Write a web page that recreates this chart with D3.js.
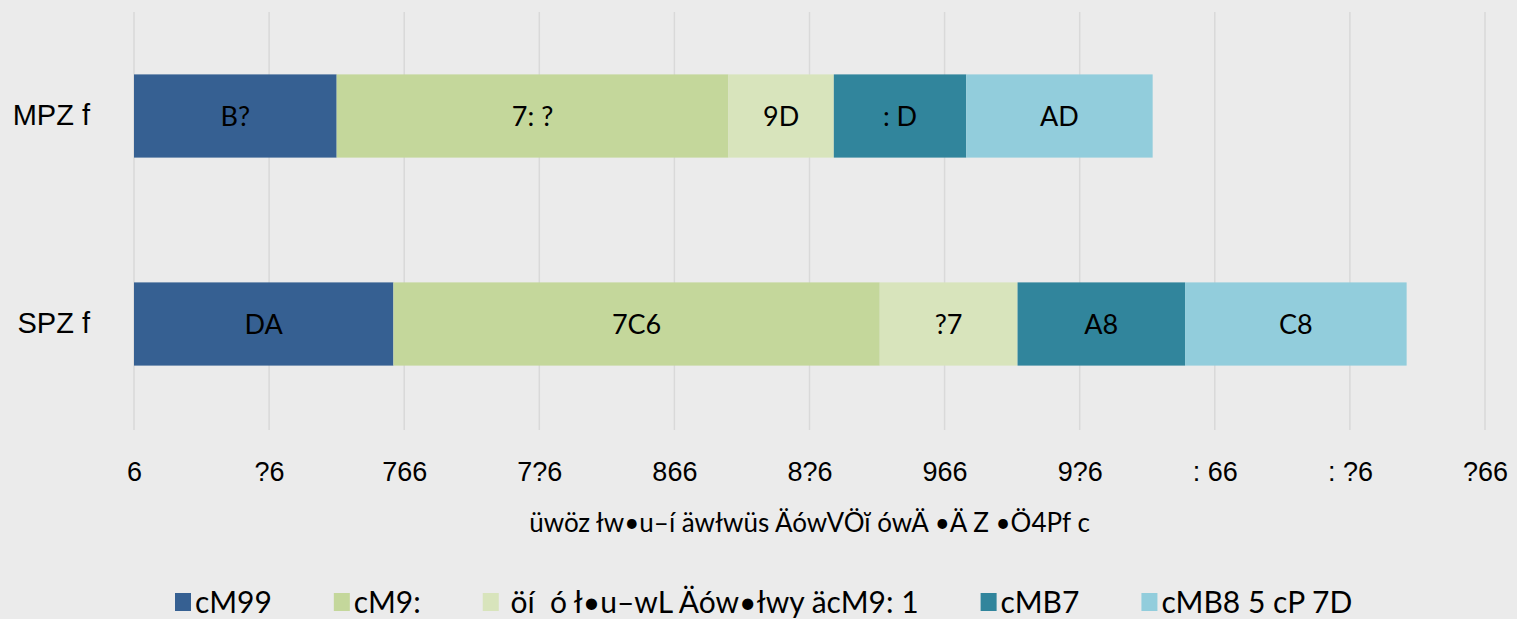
<!DOCTYPE html>
<html>
<head>
<meta charset="utf-8">
<script src="https://cdn.jsdelivr.net/npm/d3@7"></script>
<style>
  html, body { margin: 0; padding: 0; background: #ebebeb; }
  svg { display: block; font-family: Lato, "Open Sans", sans-serif; }
</style>
</head>
<body>
<svg width="1517" height="619"></svg>
<script>
// categories (top to bottom) and series, text kept as it appears
var categories = ["MPZ f", "SPZ f"];
var seriesNames = ["cM99", "cM9:", " öí  ó ł•u–wL Äów•łwy äcM9: 1", "cMB7", "cMB8 5 cP 7D"];
var series1 = [75, 96];
var series2 = [145, 180];
var series3 = [39, 51];
var series4 = [49, 62];
var series5 = [69, 82];
var colors = ["#366092", "#c4d79b", "#d8e4bc", "#31859c", "#92cddc"];
var xTicks = [0, 50, 100, 150, 200, 250, 300, 350, 400, 450, 500];
// digit glyphs as they show in the picture (0..9)
var digitGlyphs = ["6", "7", "8", "9", ": ", "?", "A", "B", "C", "D"];
var axisTitle = "üwöz łw•u–í äwłwüs ÄówVÖĭ ówÄ •Ä Z •Ö4Pf c";

function glyphs(n) {
    return String(n).split("").map(function (c) { return digitGlyphs[+c]; }).join("");
}

var allSeries = [series1, series2, series3, series4, series5];
var rows = categories.map(function (c, i) {
    var row = {cat: c};
    allSeries.forEach(function (s, j) { row["s" + j] = s[i]; });
    return row;
});
var keys = allSeries.map(function (s, j) { return "s" + j; });
var stacked = d3.stack().keys(keys)(rows);

var svg = d3.select("svg"),
    margin = {top: 12, right: 32, bottom: 191, left: 134},
    width = +svg.attr("width") - margin.left - margin.right,
    height = +svg.attr("height") - margin.top - margin.bottom;

var x = d3.scaleLinear().domain([0, 500]).range([0, width]);
var y = d3.scaleBand().domain(categories).range([0, height])
    .paddingInner(0.6).paddingOuter(0.3);

var g = svg.append("g")
    .attr("transform", "translate(" + margin.left + "," + margin.top + ")");

/* gridlines */
g.selectAll(".grid")
    .data(xTicks)
    .enter().append("line")
    .attr("x1", function (d) { return x(d); })
    .attr("x2", function (d) { return x(d); })
    .attr("y1", 0)
    .attr("y2", height + 2)
    .attr("stroke", "#d9d9d9")
    .attr("stroke-width", 1.5);

/* bars */
var layer = g.selectAll(".layer")
    .data(stacked)
    .enter().append("g")
    .attr("fill", function (d, i) { return colors[i]; });

layer.selectAll("rect")
    .data(function (d) { return d; })
    .enter().append("rect")
    .attr("x", function (d) { return x(d[0]); })
    .attr("y", function (d) { return y(d.data.cat); })
    .attr("width", function (d) { return x(d[1]) - x(d[0]); })
    .attr("height", y.bandwidth());

layer.selectAll("text")
    .data(function (d) { return d; })
    .enter().append("text")
    .attr("x", function (d) { return (x(d[0]) + x(d[1])) / 2; })
    .attr("y", function (d) { return y(d.data.cat) + y.bandwidth() / 2; })
    .attr("dy", "0.36em")
    .attr("text-anchor", "middle")
    .attr("fill", "#000")
    .style("font-size", "27px")
    .style("white-space", "pre")
    .text(function (d) { return glyphs(d[1] - d[0]); });

/* x axis */
var xAxis = g.append("g")
    .attr("transform", "translate(0," + height + ")")
    .call(d3.axisBottom(x).tickValues(xTicks).tickSize(0).tickPadding(34)
        .tickFormat(function (d) { return glyphs(d); }));
xAxis.select(".domain").remove();
xAxis.selectAll("text")
    .attr("fill", "#000")
    .style("font-size", "27px")
    .style("white-space", "pre");

/* y axis */
var yAxis = g.append("g")
    .call(d3.axisLeft(y).tickSize(0).tickPadding(44));
yAxis.select(".domain").remove();
yAxis.selectAll("text")
    .attr("fill", "#000")
    .style("font-size", "29px");

/* axis title */
g.append("text")
    .attr("x", width / 2)
    .attr("y", height + 104)
    .attr("text-anchor", "middle")
    .style("font-size", "26px")
    .text(axisTitle);

/* legend */
var legend = svg.append("g").attr("transform", "translate(175,602)");
var lx = 0;
seriesNames.forEach(function (name, i) {
    var item = legend.append("g").attr("transform", "translate(" + lx + ",0)");
    item.append("rect")
        .attr("y", -9)
        .attr("width", 16)
        .attr("height", 18)
        .attr("fill", colors[i]);
    var t = item.append("text")
        .attr("x", 20)
        .attr("dy", "0.36em")
        .style("font-size", "30px")
        .style("white-space", "pre")
        .text(name);
    lx += 20 + t.node().getComputedTextLength() + 62;
});
</script>
</body>
</html>
